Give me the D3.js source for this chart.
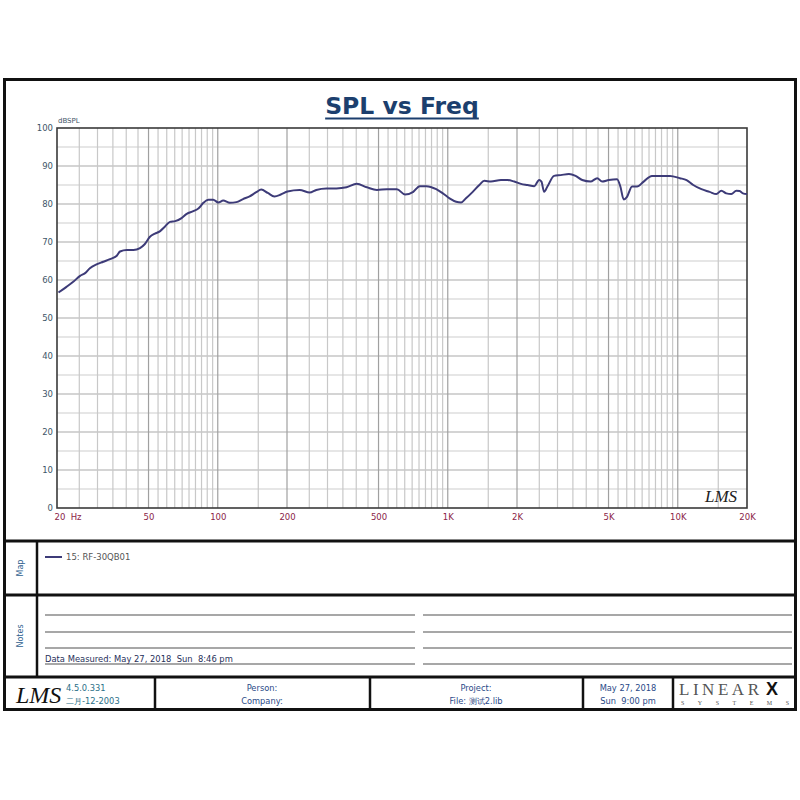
<!DOCTYPE html>
<html><head><meta charset="utf-8">
<script src="https://cdn.jsdelivr.net/npm/d3@7"></script>
<style>
html,body{margin:0;padding:0;background:#fff;}
svg{display:block;font-family:"DejaVu Sans",Verdana,sans-serif;}
</style></head>
<body><svg id="c" width="800" height="800"></svg>
<script>
// ---- data ----
const freqs = [20.3,22.0,23.6,25.2,26.5,27.8,29.7,31.8,34.0,36.4,37.6,40.2,43.0,45.9,48.1,50.6,53.3,56.0,59,62,65.3,69.6,73.3,78.3,82.6,86.6,91.0,95.6,100.5,105.6,112.8,120.5,128.8,137.6,147,154.6,165,176.4,188,201,227,251,268,297,328,363,402,445,492,544,601,652,708,755,807,891,952,1018,1088,1143,1200,1284,1372,1442,1540,1703,1821,1946,2081,2224,2377,2497,2554,2624,2712,2899,3099,3364,3596,3843,4175,4464,4690,5013,5446,5629,5819,6016,6326,6651,7110,7720,8382,9254,10217,10921,11675,12675,13763,14713,15468,16262,17096,17973,18577,19203,20000];
const spl = [56.7,58.2,59.6,61.1,61.8,63.1,64.1,64.8,65.5,66.4,67.5,67.9,67.9,68.4,69.4,71.3,72.2,72.8,74.1,75.3,75.5,76.3,77.4,78.1,78.9,80.3,81.1,81.1,80.4,80.9,80.3,80.5,81.3,82.0,83.1,83.8,82.9,82.0,82.5,83.3,83.7,83.0,83.7,84.1,84.1,84.4,85.3,84.4,83.7,83.9,83.9,82.5,83.2,84.7,84.7,83.9,82.8,81.5,80.6,80.4,81.5,83.2,85.0,86.1,85.9,86.3,86.3,85.9,85.3,85.0,84.7,86.3,85.9,83.2,84.6,87.4,87.6,87.9,87.4,86.3,85.9,86.8,85.9,86.3,86.5,84.6,81.2,81.9,84.6,84.6,85.9,87.4,87.4,87.4,86.8,86.3,85.0,83.9,83.2,82.6,83.5,82.8,82.6,83.5,83.4,82.8,82.6];
const seriesName = "15: RF-30QB01";
const yTicks = [0,10,20,30,40,50,60,70,80,90,100];
const xTickValues = [20,50,100,200,500,1000,2000,5000,10000,20000];
const xTickLabels = ["20\u00a0\u00a0Hz","50","100","200","500","1K","2K","5K","10K","20K"];
const titleText = "SPL vs Freq";
const yUnit = "dBSPL";
const notesText = "Data Measured: May 27, 2018\u00a0\u00a0Sun\u00a0\u00a08:46 pm";
const footerVersion = ["4.5.0.331","二月-12-2003"];
const footerPerson = ["Person:","Company:"];
const footerProject = ["Project:","File: 测试2.lib"];
const footerDate = ["May 27, 2018","Sun\u00a0\u00a09:00 pm"];

// ---- layout ----
const svg = d3.select("#c");
const L=57,R=747,T=128,B=508;
const x = d3.scaleLog().domain([20,20000]).range([L,R]);
const y = d3.scaleLinear().domain([0,100]).range([B,T]);

// grid
const vLines=[];
for(let d=10; d<=10000; d*=10){
  for(let k=1; k<10; k+=0.5){
    const f=k*d;
    if(f>20 && f<20000) vLines.push({f, major:(k===1||k===2||k===5)});
  }
}
const g = svg.append("g");
g.selectAll(".hg").data(d3.range(5,100,5)).join("line")
  .attr("x1",L).attr("x2",R).attr("y1",d=>y(d)).attr("y2",d=>y(d))
  .attr("stroke",d=>d%10===0?"#a9a9a9":"#cdcdcd").attr("stroke-width",1.2);
g.selectAll(".vg").data(vLines).join("line")
  .attr("x1",d=>x(d.f)).attr("x2",d=>x(d.f)).attr("y1",T).attr("y2",B)
  .attr("stroke",d=>d.major?"#a0a0a0":"#c8c8c8").attr("stroke-width",1.2);

// frame
svg.append("rect").attr("x",L).attr("y",T).attr("width",R-L).attr("height",B-T)
  .attr("fill","none").attr("stroke","#3a3a3a").attr("stroke-width",1.6);

// curve
const line = d3.line().x((d,i)=>x(freqs[i])).y(d=>y(d)).curve(d3.curveMonotoneX);
svg.append("path").datum(spl).attr("d",line).attr("fill","none")
  .attr("stroke","#3d3b78").attr("stroke-width",2).attr("stroke-linejoin","round");

// axes
const ax = svg.append("g").attr("transform",`translate(0,${B})`)
  .call(d3.axisBottom(x).tickValues(xTickValues).tickFormat((d,i)=>xTickLabels[i]).tickSize(0).tickPadding(6));
ax.select(".domain").remove();
ax.selectAll("text").attr("fill","#8b2448").attr("font-size","8.5px").attr("font-family","DejaVu Sans, sans-serif");
ax.selectAll(".tick").filter((d,i)=>i===0).select("text").attr("text-anchor","start").attr("x",-3);

const ay = svg.append("g").attr("transform",`translate(${L},0)`)
  .call(d3.axisLeft(y).tickValues(yTicks).tickSize(0).tickPadding(4));
ay.select(".domain").remove();
ay.selectAll("text").attr("fill","#3e5568").attr("font-size","8.5px").attr("font-family","DejaVu Sans, sans-serif");

svg.append("text").attr("x",58).attr("y",123).text(yUnit)
  .attr("font-size","7px").attr("fill","#3e5568");

// title
const tt = svg.append("text").attr("x",402).attr("y",114).attr("text-anchor","middle")
  .attr("font-size","23.5px").attr("font-weight","bold").attr("fill","#1c3f6e").text(titleText);
const tb = tt.node().getBBox();
svg.append("line").attr("x1",tb.x).attr("x2",tb.x+tb.width).attr("y1",118.5).attr("y2",118.5)
  .attr("stroke","#1c3f6e").attr("stroke-width",2);

// LMS watermark in plot
svg.append("text").attr("x",705).attr("y",502).text("LMS")
  .attr("font-family","Liberation Serif, serif").attr("font-style","italic").attr("font-size","17px").attr("fill","#222");

// ---- frame / sections ----
const fr = svg.append("g").attr("stroke","#111").attr("fill","none");
fr.append("rect").attr("x",4.5).attr("y",79.5).attr("width",791).attr("height",630).attr("stroke-width",3);
[541,595,677].forEach(v=>fr.append("line").attr("x1",4).attr("x2",796).attr("y1",v).attr("y2",v).attr("stroke-width",3));
fr.append("line").attr("x1",37).attr("x2",37).attr("y1",541).attr("y2",677).attr("stroke-width",2.5);
[155,370,583,673].forEach(v=>fr.append("line").attr("x1",v).attr("x2",v).attr("y1",677).attr("y2",710).attr("stroke-width",2.5));

// side labels
svg.append("text").attr("transform","translate(23,568) rotate(-90)").attr("text-anchor","middle")
  .attr("font-size","8px").attr("fill","#2f5f8f").text("Map");
svg.append("text").attr("transform","translate(23,636) rotate(-90)").attr("text-anchor","middle")
  .attr("font-size","8px").attr("fill","#2f5f8f").text("Notes");

// legend
svg.append("line").attr("x1",45).attr("x2",62).attr("y1",557).attr("y2",557)
  .attr("stroke","#3d3b78").attr("stroke-width",2);
svg.append("text").attr("x",66).attr("y",560).attr("font-size","8.5px").attr("fill","#555").text(seriesName);

// notes lines
const noteY=[615,632,648,664];
noteY.forEach(v=>{
  svg.append("line").attr("x1",45).attr("x2",415).attr("y1",v).attr("y2",v).attr("stroke","#8a8a8a").attr("stroke-width",1.3);
  svg.append("line").attr("x1",423).attr("x2",792).attr("y1",v).attr("y2",v).attr("stroke","#8a8a8a").attr("stroke-width",1.3);
});
svg.append("text").attr("x",45).attr("y",662).attr("font-size","8.4px").attr("fill","#1f2f5a").text(notesText);

// footer
svg.append("text").attr("x",16).attr("y",703).text("LMS")
  .attr("font-family","Liberation Serif, serif").attr("font-style","italic").attr("font-size","24px").attr("fill","#111");
footerVersion.forEach((t,i)=>svg.append("text").attr("x",66).attr("y",691+i*13)
  .attr("font-size","8.3px").attr("fill","#2b7088").text(t));
const cols=[[262,footerPerson],[476,footerProject],[628,footerDate]];
cols.forEach(([cx,arr])=>arr.forEach((t,i)=>svg.append("text").attr("x",cx).attr("y",691+i*13)
  .attr("text-anchor","middle").attr("font-size","8.3px").attr("fill","#2a4a88").text(t)));

// LINEARX logo
svg.append("text").attr("x",679).attr("y",695).attr("font-family","Liberation Serif, serif")
  .attr("font-size","17px").attr("fill","#555").attr("textLength",80).attr("lengthAdjust","spacing").text("LINEAR");
svg.append("text").attr("x",766).attr("y",695).attr("font-family","Liberation Sans, Arial, sans-serif")
  .attr("font-size","18px").attr("font-weight","bold").attr("fill","#111").text("X");
svg.append("text").attr("x",681).attr("y",705).attr("font-family","Liberation Serif, serif")
  .attr("font-size","6px").attr("fill","#555").attr("textLength",108).attr("lengthAdjust","spacing").text("SYSTEMS");
</script></body></html>
